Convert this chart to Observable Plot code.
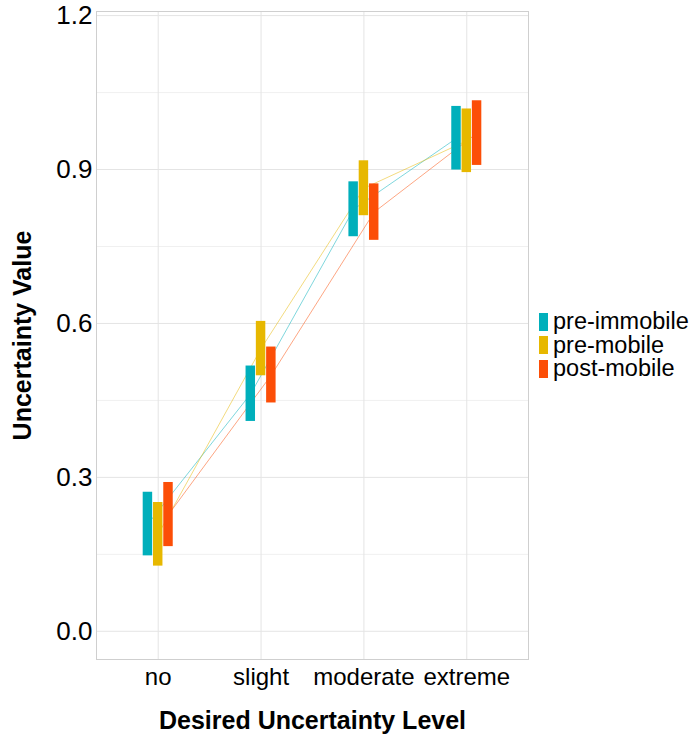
<!DOCTYPE html>
<html>
<head>
<meta charset="utf-8">
<script src="https://cdn.jsdelivr.net/npm/d3@7"></script>
<script src="https://cdn.jsdelivr.net/npm/@observablehq/plot@0.6"></script>
<style>
  body { margin: 0; background: #fff; font-family: "Liberation Sans", Arial, sans-serif; }
  #wrap { position: relative; width: 693px; height: 738px; }
  #legend { position: absolute; left: 539px; top: 310px; font-size: 23.5px; color: #000; }
  .item { display: flex; align-items: center; height: 23.5px; }
  .key { width: 9px; height: 18px; margin-right: 5px; flex: none; }
</style>
</head>
<body>
<div id="wrap">
  <div id="chart"></div>
  <div id="legend"></div>
</div>
<script>
// Uncertainty levels (x categories) and participant groups
const levels = ["no", "slight", "moderate", "extreme"];
const groups = ["pre-immobile", "pre-mobile", "post-mobile"];
const colors = ["#00AFBB", "#E7B800", "#FC4E07"];

// Lower and upper ends of each interval, per group, in level order
const preImmobileLow  = [0.147, 0.409, 0.769, 0.899];
const preImmobileHigh = [0.271, 0.517, 0.876, 1.023];
const preMobileLow    = [0.127, 0.498, 0.810, 0.894];
const preMobileHigh   = [0.251, 0.604, 0.917, 1.018];
const postMobileLow   = [0.165, 0.445, 0.762, 0.908];
const postMobileHigh  = [0.290, 0.554, 0.872, 1.034];

// Axis ticks
const yTicks = [0.0, 0.3, 0.6, 0.9, 1.2];
const yMinorTicks = [0.15, 0.45, 0.75, 1.05];

const lows = [preImmobileLow, preMobileLow, postMobileLow];
const highs = [preImmobileHigh, preMobileHigh, postMobileHigh];

// Dodge the three groups side by side around each level position
const dodge = 0.1, halfBar = 0.046;
const rows = [];
groups.forEach((g, gi) => {
  levels.forEach((lv, li) => {
    const lo = lows[gi][li], hi = highs[gi][li];
    rows.push({group: g, level: lv, xd: li + 1 + (gi - 1) * dodge, lo, hi, mid: (lo + hi) / 2});
  });
});

const chart = Plot.plot({
  width: 530,
  height: 738,
  marginTop: 11,
  marginBottom: 79,
  marginLeft: 96,
  marginRight: 2,
  style: {fontFamily: "Liberation Sans, Arial, sans-serif", background: "white", color: "black"},
  x: {domain: [0.4, 4.6]},
  y: {domain: [-0.055, 1.208]},
  color: {domain: groups, range: colors},
  marks: [
    Plot.gridY(yMinorTicks, {stroke: "#f0f0f0", strokeOpacity: 1}),
    Plot.gridY(yTicks, {stroke: "#e4e4e4", strokeOpacity: 1}),
    Plot.gridX(levels.map((d, i) => i + 1), {stroke: "#e4e4e4", strokeOpacity: 1}),
    Plot.frame({stroke: "#cfcfcf"}),
    Plot.line(rows, {x: "xd", y: "mid", z: "group", stroke: "group", strokeWidth: 1, strokeOpacity: 0.5}),
    Plot.rect(rows, {x1: d => d.xd - halfBar, x2: d => d.xd + halfBar, y1: "lo", y2: "hi", fill: "group"}),
    Plot.axisY(yTicks, {tickSize: 0, tickPadding: 4, fontSize: 26, tickFormat: d3.format(".1f"), label: null}),
    Plot.axisX(levels.map((d, i) => i + 1), {tickSize: 0, tickPadding: 8, fontSize: 24, tickFormat: i => levels[i - 1], label: null}),
    Plot.text(["Desired Uncertainty Level"], {frameAnchor: "bottom", lineAnchor: "middle", dy: 61, fontSize: 25, fontWeight: "bold", fill: "black"}),
    Plot.text(["Uncertainty Value"], {frameAnchor: "left", textAnchor: "middle", lineAnchor: "middle", dx: -74, rotate: -90, fontSize: 25, fontWeight: "bold", fill: "black"})
  ]
});
document.getElementById("chart").appendChild(chart);

// Legend to the right of the panel
const legend = d3.select("#legend");
groups.forEach((g, i) => {
  const item = legend.append("div").attr("class", "item");
  item.append("div").attr("class", "key").style("background", colors[i]);
  item.append("span").text(g);
});
</script>
</body>
</html>
